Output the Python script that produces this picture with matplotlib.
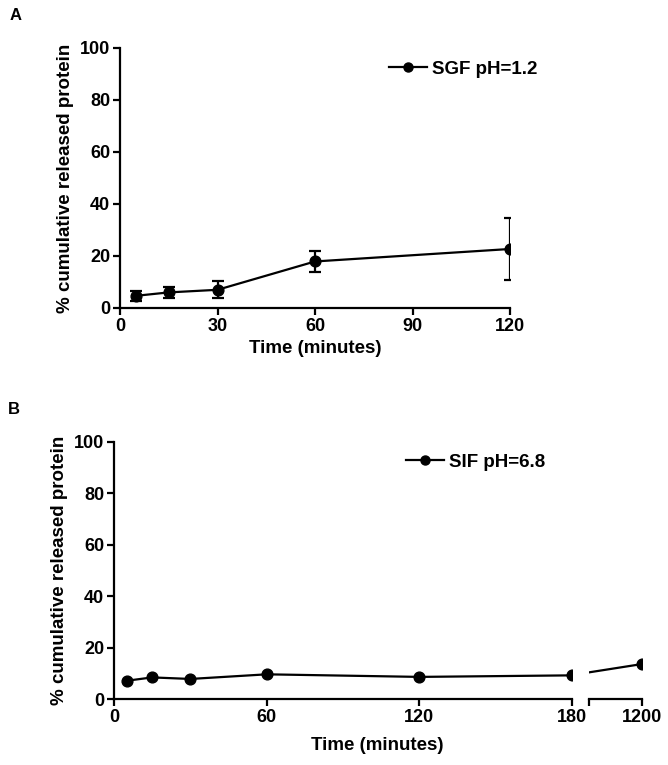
import matplotlib
matplotlib.use("Agg")
import matplotlib.pyplot as plt
import numpy as np

plt.rcParams['font.family'] = ['Liberation Sans', 'DejaVu Sans']
plt.rcParams['font.weight'] = 'bold'

# Panel A data (SGF pH=1.2)
time_a = [5, 15, 30, 60, 120]
release_a = [4.7, 6.0, 7.0, 17.9, 22.7]
err_a = [2.0, 2.2, 3.3, 4.2, 12.1]
xticks_a = [0, 30, 60, 90, 120]

# Panel B data (SIF pH=6.8)
time_b = [5, 15, 30, 60, 120, 180, 1200]
release_b = [7.1, 8.4, 7.8, 9.6, 8.6, 9.2, 13.6]
xticks_b1 = [0, 60, 120, 180]
xticks_b2 = [1200]
yticks = [0, 20, 40, 60, 80, 100]

W, H = 668, 765
fig = plt.figure(figsize=(W / 100, H / 100), dpi=100)

LW = 1.6
FS = 13
LFS = 13.5
MS = 60      # marker area (pt^2)
CAP = 80     # cap marker area (pt^2)

def style(ax, left_spine=True):
    for s in ['top', 'right']:
        ax.spines[s].set_visible(False)
    ax.spines['bottom'].set_linewidth(LW)
    ax.spines['left'].set_linewidth(LW)
    ax.spines['left'].set_visible(left_spine)
    ax.tick_params(width=LW, length=5, labelsize=FS, direction='out', pad=2)
    for lbl in ax.get_xticklabels() + ax.get_yticklabels():
        lbl.set_fontweight('bold')

def fax(l, t, r, b):
    return fig.add_axes([l / W, 1 - b / H, (r - l) / W, (b - t) / H])

def legend_at(label, x, y):
    fig.legend([plt.Line2D([], [], color='black', lw=LW, marker='o', ms=6.5)], [label],
               loc='center left', bbox_to_anchor=(x / W, 1 - y / H), frameon=False,
               borderpad=0, borderaxespad=0, handlelength=2.05, handletextpad=0.25,
               prop={'size': LFS, 'weight': 'bold'})

# Panel A
axA = fax(120, 48, 510, 308)
ya = np.array(release_a)
ea = np.array(err_a)
axA.plot(time_a, release_a, color='black', lw=LW)
axA.vlines(time_a, ya - ea, ya + ea, color='black', lw=LW)
axA.scatter(time_a, ya + ea, marker='_', s=CAP, color='black', linewidths=LW)
axA.scatter(time_a, ya - ea, marker='_', s=CAP, color='black', linewidths=LW)
axA.scatter(time_a, release_a, marker='o', s=MS, color='black', zorder=3)
axA.set_xlim(0, 120)
axA.set_ylim(0, 100)
axA.set_xticks(xticks_a)
axA.set_yticks(yticks)
style(axA)
axA.set_ylabel('% cumulative released protein', fontsize=LFS, fontweight='bold', labelpad=4)
axA.set_xlabel('Time (minutes)', fontsize=LFS, fontweight='bold', labelpad=4)
legend_at('SGF pH=1.2', 389, 69)

# Panel B, first segment
axB1 = fax(114, 442, 572, 699)
axB1.plot(time_b, release_b, color='black', lw=LW)
axB1.scatter(time_b, release_b, marker='o', s=MS, color='black', zorder=3)
axB1.set_xlim(0, 180)
axB1.set_ylim(0, 100)
axB1.set_xticks(xticks_b1)
axB1.set_yticks(yticks)
style(axB1)
axB1.set_ylabel('% cumulative released protein', fontsize=LFS, fontweight='bold', labelpad=4)

# Panel B, second segment after axis break
axB2 = fax(589, 442, 642, 699)
axB2.plot(time_b, release_b, color='black', lw=LW)
axB2.scatter(time_b, release_b, marker='o', s=MS, color='black', zorder=3)
axB2.set_xlim(450, 1200)
axB2.set_ylim(0, 100)
axB2.set_xticks([450] + xticks_b2)
axB2.set_xticklabels([''] + [str(v) for v in xticks_b2])
axB2.set_yticks([])
style(axB2, left_spine=False)

fig.text(377 / W, 1 - 745 / H, 'Time (minutes)', ha='center', va='center',
         fontsize=LFS, fontweight='bold')
legend_at('SIF pH=6.8', 406, 462)

fig.text(10 / W, 1 - 16 / H, 'A', fontsize=12, fontweight='bold', va='center')
fig.text(8 / W, 1 - 410 / H, 'B', fontsize=12, fontweight='bold', va='center')

fig.savefig('out.png', dpi=100)
